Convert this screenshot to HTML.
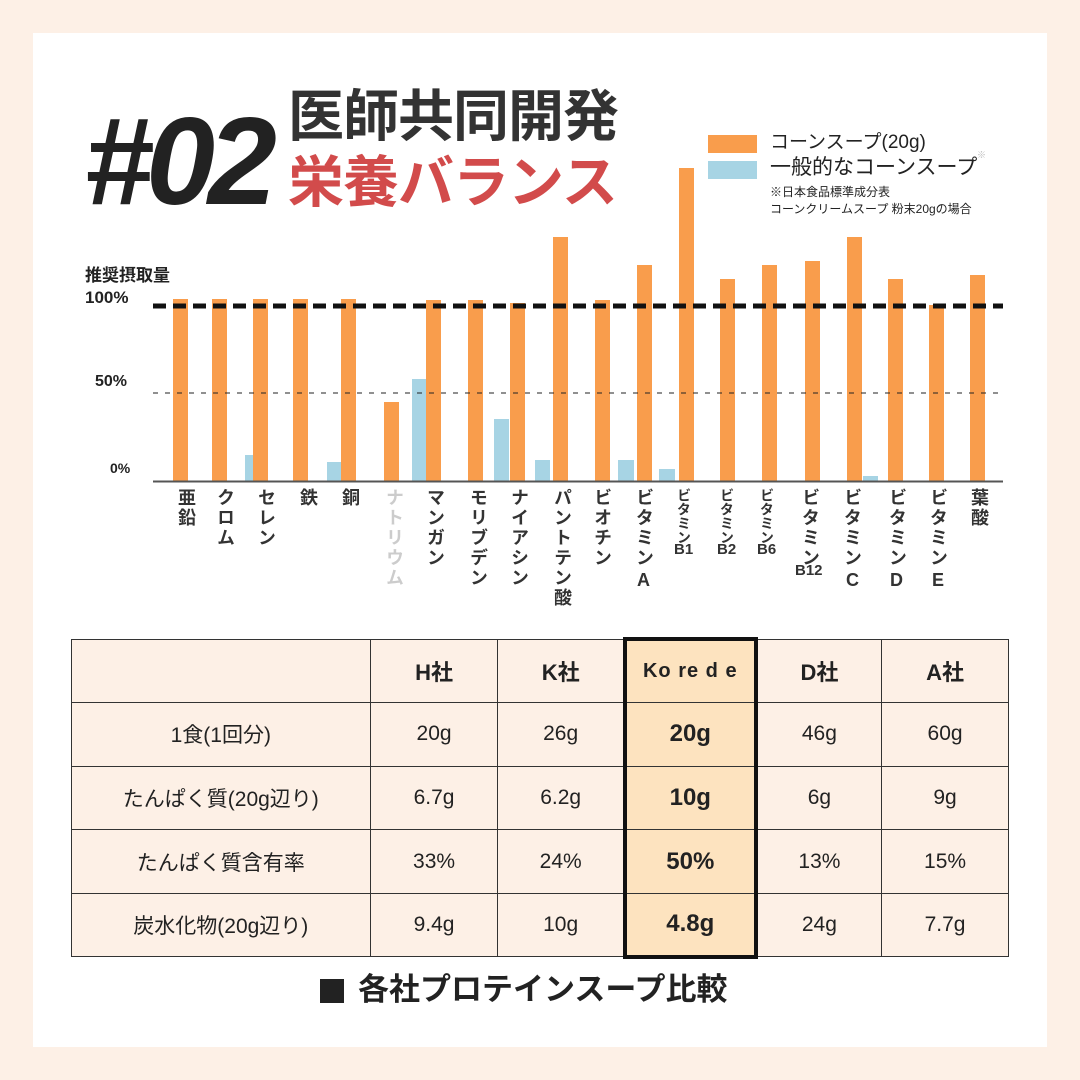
<!DOCTYPE html>
<html><head><meta charset="utf-8"><style>
*{margin:0;padding:0;box-sizing:border-box}
body{width:1080px;height:1080px;background:#fdf0e6;position:relative;overflow:hidden;font-family:"Liberation Sans","Noto Sans CJK JP",sans-serif;color:#222}
.panel{position:absolute;left:33px;top:33px;width:1014px;height:1014px;background:#fff}
.a{position:absolute;line-height:1.15}
.lab{position:absolute;top:488px;writing-mode:vertical-rl;text-orientation:upright;font-weight:bold;font-size:18px;line-height:20px;color:#333;letter-spacing:2px}
.sm{font-size:14px;line-height:14px;letter-spacing:0}
.lab2{position:absolute;writing-mode:horizontal-tb;font-weight:bold;font-size:15px;color:#333}
table{position:absolute;left:71px;top:637px;border-collapse:collapse;width:938px}
td{border:1.5px solid #333;background:#fdf0e6;height:63.6px;text-align:center;font-size:21px;color:#222}
td.h{font-weight:bold;font-size:22px}
td.k{background:#fde3bf;font-weight:bold;font-size:24px;border-left:4px solid #111;border-right:4px solid #111}
</style></head><body>
<div class="panel"></div>
<div class="a" style="left:84px;top:92px;font-size:124px;font-weight:bold;font-style:italic;letter-spacing:-7px;color:#222;line-height:140px">#02</div>
<div class="a" style="left:288px;top:84px;font-size:56px;font-weight:bold;color:#333;line-height:66px;letter-spacing:-1px">医師共同開発</div>
<div class="a" style="left:288px;top:150px;font-size:56px;font-weight:bold;color:#d24b4b;line-height:66px;letter-spacing:-1px">栄養バランス</div>
<div class="a" style="left:708px;top:135px;width:49px;height:18px;background:#f99d4c"></div>
<div class="a" style="left:708px;top:161px;width:49px;height:18px;background:#a7d4e4"></div>
<div class="a" style="left:770px;top:132px;font-size:19px;color:#222">コーンスープ(20g)</div>
<div class="a" style="left:770px;top:156px;font-size:21px;color:#222">一般的なコーンスープ</div>
<div class="a" style="left:977px;top:150px;font-size:9px;color:#bbb">※</div>
<div class="a" style="left:770px;top:186px;font-size:12px;color:#222">※日本食品標準成分表</div>
<div class="a" style="left:770px;top:203px;font-size:12px;color:#222">コーンクリームスープ 粉末20gの場合</div>
<div class="a" style="left:85px;top:266px;font-size:17px;font-weight:bold">推奨摂取量</div>
<div class="a" style="left:85px;top:288px;font-size:17px;font-weight:bold">100%</div>
<div class="a" style="left:95px;top:373px;font-size:16px;font-weight:bold">50%</div>
<div class="a" style="left:110px;top:460px;font-size:14px;font-weight:bold">0%</div>
<svg class="a" style="left:0;top:0" width="1080" height="1080">
<g fill="#a7d4e4">
<rect x="245" y="455" width="15" height="26"/><rect x="327" y="462" width="15" height="19"/>
<rect x="412" y="379" width="16" height="102"/><rect x="494" y="419" width="15" height="62"/>
<rect x="535" y="460" width="15" height="21"/><rect x="618" y="460" width="16" height="21"/>
<rect x="659" y="469" width="16" height="12"/><rect x="863" y="476" width="15" height="5"/>
</g>
<g fill="#f99d4c">
<rect x="173" y="299" width="15" height="182"/><rect x="212" y="299" width="15" height="182"/>
<rect x="253" y="299" width="15" height="182"/><rect x="293" y="299" width="15" height="182"/>
<rect x="341" y="299" width="15" height="182"/><rect x="384" y="402" width="15" height="79"/>
<rect x="426" y="300" width="15" height="181"/><rect x="468" y="300" width="15" height="181"/>
<rect x="510" y="303" width="15" height="178"/><rect x="553" y="237" width="15" height="244"/>
<rect x="595" y="300" width="15" height="181"/><rect x="637" y="265" width="15" height="216"/>
<rect x="679" y="168" width="15" height="313"/><rect x="720" y="279" width="15" height="202"/>
<rect x="762" y="265" width="15" height="216"/><rect x="805" y="261" width="15" height="220"/>
<rect x="847" y="237" width="15" height="244"/><rect x="888" y="279" width="15" height="202"/>
<rect x="929" y="305" width="15" height="176"/><rect x="970" y="275" width="15" height="206"/>
</g>
<line x1="153" y1="306" x2="1003" y2="306" stroke="#111" stroke-width="5" stroke-dasharray="13 7"/>
<line x1="153" y1="393" x2="1000" y2="393" stroke="#222" stroke-width="1" stroke-dasharray="5 7"/>
<line x1="153" y1="481.5" x2="1003" y2="481.5" stroke="#555" stroke-width="2"/>
</svg>
<div class="lab" style="left:176px">亜鉛</div>
<div class="lab" style="left:215px">クロム</div>
<div class="lab" style="left:256px">セレン</div>
<div class="lab" style="left:298px">鉄</div>
<div class="lab" style="left:340px">銅</div>
<div class="lab" style="left:384px;color:#ccc">ナトリウム</div>
<div class="lab" style="left:425px">マンガン</div>
<div class="lab" style="left:468px">モリブデン</div>
<div class="lab" style="left:509px">ナイアシン</div>
<div class="lab" style="left:552px">パントテン酸</div>
<div class="lab" style="left:592px">ビオチン</div>
<div class="lab" style="left:634px">ビタミン</div><div class="lab2" style="left:637px;top:570px;font-size:18px">A</div>
<div class="lab sm" style="left:677px">ビタミン</div><div class="lab2" style="left:674px;top:541px">B1</div>
<div class="lab sm" style="left:720px">ビタミン</div><div class="lab2" style="left:717px;top:541px">B2</div>
<div class="lab sm" style="left:760px">ビタミン</div><div class="lab2" style="left:757px;top:541px">B6</div>
<div class="lab" style="left:800px">ビタミン</div><div class="lab2" style="left:795px;top:562px">B12</div>
<div class="lab" style="left:842px">ビタミン</div><div class="lab2" style="left:846px;top:570px;font-size:18px">C</div>
<div class="lab" style="left:887px">ビタミン</div><div class="lab2" style="left:890px;top:570px;font-size:18px">D</div>
<div class="lab" style="left:928px">ビタミン</div><div class="lab2" style="left:932px;top:570px;font-size:18px">E</div>
<div class="lab" style="left:969px">葉酸</div>
<table>
<colgroup><col style="width:299px"><col style="width:128px"><col style="width:127px"><col style="width:131px"><col style="width:126px"><col style="width:127px"></colgroup>
<tr><td></td><td class="h">H社</td><td class="h">K社</td><td class="k" style="border-top:4px solid #111;font-size:20px;letter-spacing:1px">Ko re d e</td><td class="h">D社</td><td class="h">A社</td></tr>
<tr><td>1食(1回分)</td><td>20g</td><td>26g</td><td class="k">20g</td><td>46g</td><td>60g</td></tr>
<tr><td>たんぱく質(20g辺り)</td><td>6.7g</td><td>6.2g</td><td class="k">10g</td><td>6g</td><td>9g</td></tr>
<tr><td>たんぱく質含有率</td><td>33%</td><td>24%</td><td class="k">50%</td><td>13%</td><td>15%</td></tr>
<tr><td>炭水化物(20g辺り)</td><td>9.4g</td><td>10g</td><td class="k" style="border-bottom:4px solid #111">4.8g</td><td>24g</td><td>7.7g</td></tr>
</table>
<div class="a" style="left:320px;top:979px;width:24px;height:24px;background:#222"></div>
<div class="a" style="left:358px;top:972px;font-size:31px;font-weight:bold;color:#222">各社プロテインスープ比較</div>
</body></html>
